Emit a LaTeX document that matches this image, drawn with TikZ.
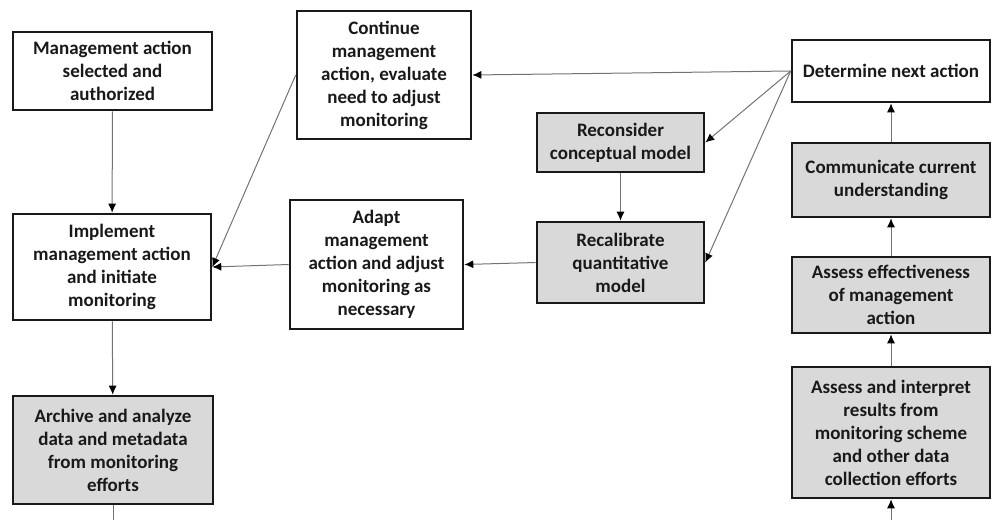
\documentclass[tikz,border=0pt]{standalone}
\usepackage{fontspec}
\setmainfont{Carlito}
\usepackage{tikz}
\usetikzlibrary{positioning, arrows.meta}

\begin{document}
\begin{tikzpicture}[x=1pt, y=-1pt,
  box/.style={draw=black!90, line width=2.6pt, fill=white, align=center, inner sep=0pt,
    text=black!90, font=\fontsize{19}{23}\selectfont\bfseries},
  gbox/.style={box, fill=black!15},
  link/.style={draw=black!55, line width=1pt, -{Latex[length=9pt,width=8pt,color=black]}}]
\useasboundingbox (0,0) rectangle (992,520);
% left column
\node[box, minimum width=199, minimum height=78] (sel) at (112.5,71) {Management action\\selected and\\authorized};
\node[box, minimum width=198, minimum height=106] (impl) at (112,267) {Implement\\management action\\and initiate\\monitoring};
\node[gbox, minimum width=200, minimum height=108] (arch) at (113,450) {Archive and analyze\\data and metadata\\from monitoring\\efforts};
% middle
\node[box, minimum width=174, minimum height=128] (cont) at (384,75) {Continue\\management\\action, evaluate\\need to adjust\\monitoring};
\node[box, minimum width=173, minimum height=129] (adapt) at (376.5,264.5) {Adapt\\management\\action and adjust\\monitoring as\\necessary};
\node[gbox, minimum width=167, minimum height=59] (recon) at (620.5,142.5) {Reconsider\\conceptual model};
\node[gbox, minimum width=167, minimum height=81] (recal) at (620.5,262.5) {Recalibrate\\quantitative\\model};
% right column
\node[box, minimum width=198, minimum height=62] (det) at (891,71) {Determine next action};
\node[gbox, minimum width=198, minimum height=74] (comm) at (891,180) {Communicate current\\understanding};
\node[gbox, minimum width=198, minimum height=76] (effect) at (891,295) {Assess effectiveness\\of management\\action};
\node[gbox, minimum width=198, minimum height=131] (interp) at (891,432.5) {Assess and interpret\\results from\\monitoring scheme\\and other data\\collection efforts};
\coordinate (out) at (113,520); % leaves the page below
\coordinate (in) at (891,520); % comes in from below
% connectors
\draw[link] (sel) -- (impl);
\draw[link] (impl) -- (arch);
\draw[link, -] (arch) -- (out);
\draw[link] (in) -- (interp);
\draw[link] (interp) -- (effect);
\draw[link] (effect) -- (comm);
\draw[link] (comm) -- (det);
\draw[link] (det.west) -- (cont.east);
\draw[link] (det.west) -- (recon.east);
\draw[link] (det.west) -- (recal.east);
\draw[link] (recon) -- (recal);
\draw[link] (recal.west) -- (adapt.east);
\draw[link] (adapt.west) -- (impl.east);
\draw[link] (cont.west) -- (impl.east);
\end{tikzpicture}
\end{document}
